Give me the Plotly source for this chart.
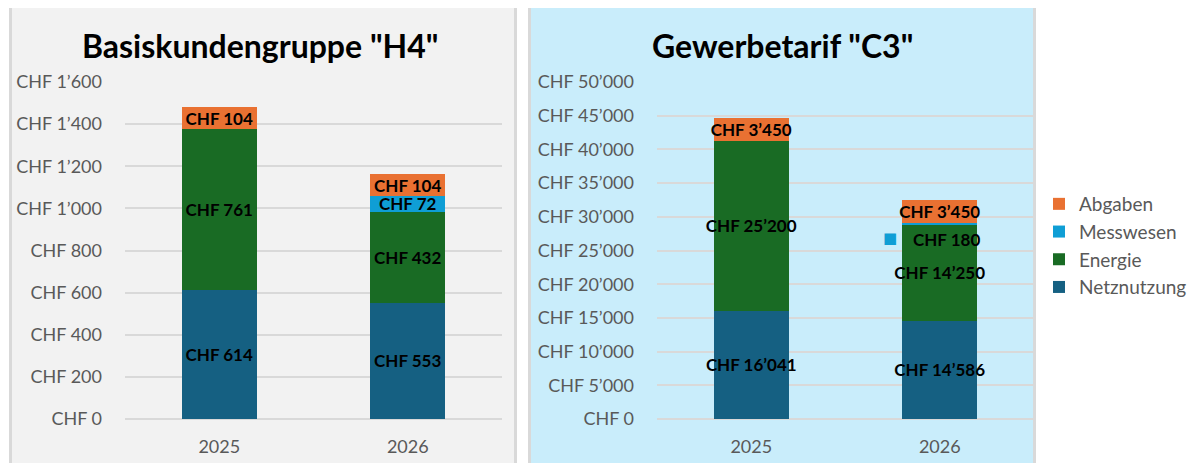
import plotly.graph_objects as go

years = ["2025", "2026"]
series = ["Netznutzung", "Energie", "Messwesen", "Abgaben"]
colors = {"Netznutzung": "#156082", "Energie": "#196B24", "Messwesen": "#0F9ED5", "Abgaben": "#E97132"}

h4_netz = [614, 553]
h4_energie = [761, 432]
h4_mess = [None, 72]
h4_abgaben = [104, 104]

c3_netz = [16041, 14586]
c3_energie = [25200, 14250]
c3_mess = [None, 180]
c3_abgaben = [3450, 3450]

titles = ['Basiskundengruppe "H4"', 'Gewerbetarif "C3"']

FONT = "Lato"
OFF = 8  # page body margin
W, H = 1202 - OFF, 463 - OFF

def px(x):
    return (x - OFF) / W

def py(y):
    return 1 - (y - OFF) / H

fig = go.Figure()

h4 = {"Netznutzung": h4_netz, "Energie": h4_energie, "Messwesen": h4_mess, "Abgaben": h4_abgaben}
c3 = {"Netznutzung": c3_netz, "Energie": c3_energie, "Messwesen": c3_mess, "Abgaben": c3_abgaben}

def fmt(v):
    return f"{v:,}".replace(",", "\u2019")

LBL = dict(family=FONT, size=17, color="black")

for name in series:
    fig.add_trace(go.Bar(
        x=years, y=h4[name], name=name, marker_color=colors[name], marker_line_width=0,
        xaxis="x", yaxis="y", legendgroup=name, showlegend=True, width=0.4,
        texttemplate="<b>CHF %{y:,}</b>", textposition="inside", insidetextanchor="middle",
        textangle=0, constraintext="none", textfont=LBL,
    ))
for name in series:
    tt = "" if name == "Messwesen" else "<b>CHF %{y:,}</b>"
    fig.add_trace(go.Bar(
        x=years, y=c3[name], name=name, marker_color=colors[name], marker_line_width=0,
        xaxis="x2", yaxis="y2", legendgroup=name, showlegend=False, width=0.4,
        texttemplate=tt, textposition="inside", insidetextanchor="middle",
        textangle=0, constraintext="none", textfont=LBL,
    ))

# Messwesen label in C3 panel (placed beside the thin segment, with key)
i26 = years.index("2026")
base = c3_netz[i26] + c3_energie[i26]
mid = base + c3_mess[i26] / 2
fig.add_annotation(x=i26, y=mid, xref="x2", yref="y2", text=f"<b>CHF {fmt(c3_mess[i26])}</b>",
                   showarrow=False, xshift=7, yshift=-15, xanchor="center", yanchor="middle",
                   font=LBL)
fig.add_annotation(x=i26, y=mid, xref="x2", yref="y2", text="\u25A0",
                   showarrow=False, xshift=-50, yshift=-14, xanchor="center", yanchor="middle",
                   font=dict(family="DejaVu Sans", size=15, color=colors["Messwesen"]))

# panel backgrounds
fig.add_shape(type="rect", xref="paper", yref="paper", x0=px(10.5), x1=px(515.5), y0=-0.05, y1=py(4.5),
              fillcolor="#F2F2F2", line=dict(color="#D9D9D9", width=3), layer="below")
fig.add_shape(type="rect", xref="paper", yref="paper", x0=px(529.5), x1=px(1034.5), y0=-0.05, y1=py(4.5),
              fillcolor="#C9EDFB", line=dict(color="#D9D9D9", width=3), layer="below")

# titles
fig.add_annotation(x=px(260), y=py(45), xref="paper", yref="paper", text=f"<b>{titles[0]}</b>",
                   showarrow=False, font=dict(family=FONT, size=32, color="black"),
                   xanchor="center", yanchor="middle")
fig.add_annotation(x=px(782), y=py(45), xref="paper", yref="paper", text=f"<b>{titles[1]}</b>",
                   showarrow=False, font=dict(family=FONT, size=32, color="black"),
                   xanchor="center", yanchor="middle")

tickfont = dict(family=FONT, size=18, color="#595959")
axis_common = dict(showgrid=True, gridcolor="#D9D9D9", gridwidth=2, zeroline=True, zerolinecolor="#D9D9D9",
                   zerolinewidth=2, showline=False, tickprefix="CHF ", tickformat=",d", tickfont=tickfont,
                   ticks="", ticklabelstandoff=22, fixedrange=True, automargin=False)
xcommon = dict(type="category", categoryorder="array", categoryarray=years, range=[-0.5, 1.5],
               showgrid=False, zeroline=False, showline=False, tickfont=tickfont,
               ticks="", ticklabelstandoff=15, fixedrange=True, automargin=False)

ydom = [py(419), py(82)]
fig.update_layout(
    template="none",
    width=W, height=H, autosize=False,
    margin=dict(l=0, r=0, t=0, b=0, pad=0),
    paper_bgcolor="white", plot_bgcolor="rgba(0,0,0,0)",
    separators=".\u2019",
    barmode="stack",
    font=dict(family=FONT),
    xaxis=dict(domain=[px(125), px(502)], anchor="y", **xcommon),
    yaxis=dict(domain=ydom, anchor="x", range=[0, 1600], dtick=200, **axis_common),
    xaxis2=dict(domain=[px(657), px(1034)], anchor="y2", **xcommon),
    yaxis2=dict(domain=ydom, anchor="x2", range=[0, 50000], dtick=5000, **axis_common),
    legend=dict(x=px(1039), y=py(185), xanchor="left", yanchor="top", traceorder="reversed",
                font=dict(family=FONT, size=19, color="#595959"), bgcolor="rgba(0,0,0,0)",
                tracegroupgap=0, borderwidth=0),
    showlegend=True,
)

fig.write_html("out.html")
